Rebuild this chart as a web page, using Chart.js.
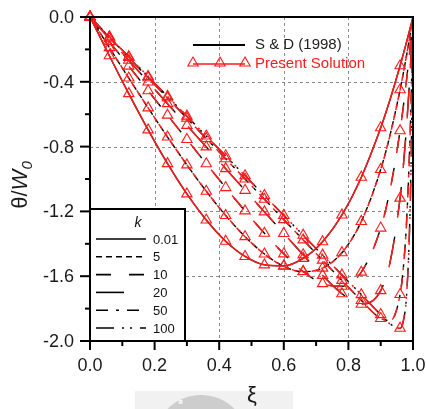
<!DOCTYPE html>
<html>
<head>
<meta charset="utf-8">
<script src="https://cdn.jsdelivr.net/npm/chart.js@4.4.1/dist/chart.umd.min.js"></script>
<style>
html, body { margin: 0; padding: 0; background: #fff; }
#wrap { position: relative; width: 426px; height: 409px; }
</style>
</head>
<body>
<div id="wrap"><canvas id="c" width="426" height="409"></canvas></div>
<script>
// ── data ───────────────────────────────────────────────────
const XI = [0, 0.06, 0.12, 0.18, 0.24, 0.30, 0.36, 0.42, 0.48, 0.54, 0.60, 0.66,
            0.72, 0.78, 0.84, 0.90, 0.93, 0.96, 0.97, 0.98, 0.99, 0.995, 1.0];
// triangle markers only on the regular grid (0 .. 0.96, step 0.06)
const MARK_IDX = [0, 1, 2, 3, 4, 5, 6, 7, 8, 9, 10, 11, 12, 13, 14, 15, 17];

const K_LABELS = ['0.01', '5', '10', '20', '50', '100'];

const TH_K001 = [0, -0.239, -0.473, -0.697, -0.905, -1.092, -1.253, -1.384, -1.478, -1.530, -1.536, -1.490,
                 -1.387, -1.222, -0.989, -0.684, -0.503, -0.301, -0.229, -0.155, -0.079, -0.040, 0];
const TH_K5   = [0, -0.189, -0.377, -0.561, -0.741, -0.913, -1.076, -1.225, -1.356, -1.463, -1.539, -1.572,
                 -1.550, -1.455, -1.262, -0.941, -0.720, -0.449, -0.347, -0.238, -0.123, -0.062, 0];
const TH_K10  = [0, -0.152, -0.303, -0.455, -0.606, -0.756, -0.906, -1.053, -1.197, -1.335, -1.462, -1.571,
                 -1.646, -1.662, -1.575, -1.303, -1.056, -0.702, -0.554, -0.389, -0.205, -0.105, 0];
const TH_K20  = [0, -0.134, -0.267, -0.401, -0.535, -0.669, -0.802, -0.936, -1.070, -1.203, -1.336, -1.468,
                 -1.595, -1.708, -1.773, -1.689, -1.504, -1.118, -0.921, -0.676, -0.373, -0.196, 0];
const TH_K50  = [0, -0.125, -0.250, -0.375, -0.500, -0.625, -0.750, -0.875, -1.000, -1.125, -1.251, -1.376,
                 -1.501, -1.626, -1.750, -1.861, -1.873, -1.713, -1.550, -1.268, -0.793, -0.447, 0];
const TH_K100 = [0, -0.122, -0.245, -0.367, -0.490, -0.612, -0.735, -0.857, -0.980, -1.102, -1.225, -1.347,
                 -1.470, -1.592, -1.714, -1.837, -1.896, -1.921, -1.877, -1.721, -1.266, -0.790, 0];

const CURVES = [TH_K001, TH_K5, TH_K10, TH_K20, TH_K50, TH_K100];

const X_MAJOR = [0, 0.2, 0.4, 0.6, 0.8, 1.0];
const X_MINOR = [0.1, 0.3, 0.5, 0.7, 0.9];
const Y_MAJOR = [0, -0.4, -0.8, -1.2, -1.6, -2.0];
const Y_MINOR = [-0.2, -0.6, -1.0, -1.4, -1.8];

// ── styles ─────────────────────────────────────────────────
const DASHES = [[], [6, 4], [15, 18], [28, 22], [12, 8, 3, 8], [18, 8, 2, 6, 2, 8]];
const RED = '#ff1a1a';
const FONT = '"Liberation Sans", Arial, sans-serif';

// ── datasets ───────────────────────────────────────────────
const pts = arr => XI.map((x, i) => ({ x: x, y: arr[i] }));
const datasets = [];

CURVES.forEach((arr, k) => {
  // S & D (1998) – black
  datasets.push({
    data: pts(arr),
    borderColor: '#000',
    borderWidth: 1.4,
    borderDash: DASHES[k],
    pointRadius: 0,
    cubicInterpolationMode: 'monotone',
    order: 2
  });
  // present solution – red with hollow triangles
  datasets.push({
    data: pts(arr),
    borderColor: RED,
    borderWidth: 1.5,
    borderDash: DASHES[k],
    borderDashOffset: 3,
    pointStyle: 'triangle',
    pointRadius: XI.map((x, i) => MARK_IDX.includes(i) ? 6 : 0),
    pointBorderColor: RED,
    pointBackgroundColor: 'rgba(0,0,0,0)',
    pointBorderWidth: 1.1,
    cubicInterpolationMode: 'monotone',
    clip: false,
    order: 1
  });
});

// ── helpers ────────────────────────────────────────────────
function seg(ctx, x1, y1, x2, y2) {
  ctx.beginPath(); ctx.moveTo(x1, y1); ctx.lineTo(x2, y2); ctx.stroke();
}

function triangle(ctx, x, y, r) {
  ctx.beginPath();
  ctx.moveTo(x, y - r);
  ctx.lineTo(x + r * 0.866, y + r * 0.5);
  ctx.lineTo(x - r * 0.866, y + r * 0.5);
  ctx.closePath();
  ctx.stroke();
}

// ── grid, frame, ticks, legends, titles ────────────────────
const decor = {
  id: 'decor',
  beforeDatasetsDraw(chart) {
    const { ctx, chartArea: a, scales: { x, y } } = chart;
    ctx.save();
    ctx.strokeStyle = '#8a8a8a';
    ctx.lineWidth = 1;
    ctx.setLineDash([3, 3]);
    X_MAJOR.slice(1, -1).forEach(v => {
      const px = Math.round(x.getPixelForValue(v)) + 0.5;
      seg(ctx, px, a.top, px, a.bottom);
    });
    Y_MAJOR.slice(1, -1).forEach(v => {
      const py = Math.round(y.getPixelForValue(v)) + 0.5;
      seg(ctx, a.left, py, a.right, py);
    });
    ctx.restore();
  },
  afterDatasetsDraw(chart) {
    const { ctx, chartArea: a, scales: { x, y } } = chart;
    ctx.save();

    // inner legend box (k)
    const bx = a.left, by = 209, bw = 95, bh = a.bottom - 209;
    ctx.fillStyle = '#fff';
    ctx.fillRect(bx, by, bw, bh);
    ctx.strokeStyle = '#000';
    ctx.lineWidth = 2;
    ctx.strokeRect(bx, by, bw, bh);
    ctx.fillStyle = '#111';
    ctx.font = 'italic 14px ' + FONT;
    ctx.textAlign = 'center';
    ctx.textBaseline = 'middle';
    ctx.fillText('k', 138, 223);
    ctx.font = '13px ' + FONT;
    ctx.textAlign = 'left';
    K_LABELS.forEach((lab, k) => {
      const ly = 239 + k * 17.8;
      ctx.lineWidth = 1.6;
      ctx.setLineDash(DASHES[k]);
      seg(ctx, 96, ly, 146, ly);
      ctx.setLineDash([]);
      ctx.fillText(lab, 153, ly + 1);
    });

    // frame
    ctx.setLineDash([]);
    ctx.lineWidth = 2;
    ctx.strokeStyle = '#000';
    ctx.strokeRect(a.left, a.top, a.right - a.left, a.bottom - a.top);

    // ticks
    X_MAJOR.forEach(v => { const p = x.getPixelForValue(v); seg(ctx, p, a.bottom, p, a.bottom + 9); });
    X_MINOR.forEach(v => { const p = x.getPixelForValue(v); seg(ctx, p, a.bottom, p, a.bottom + 5); });
    Y_MAJOR.forEach(v => { const p = y.getPixelForValue(v); seg(ctx, a.left - 10, p, a.left, p); });
    Y_MINOR.forEach(v => { const p = y.getPixelForValue(v); seg(ctx, a.left - 5, p, a.left, p); });

    // tick labels
    ctx.fillStyle = '#1a1a1a';
    ctx.font = '18px ' + FONT;
    ctx.textAlign = 'center';
    ctx.textBaseline = 'middle';
    X_MAJOR.forEach(v => ctx.fillText(v.toFixed(1), x.getPixelForValue(v), 366));
    ctx.textAlign = 'right';
    Y_MAJOR.forEach(v => ctx.fillText(v === 0 ? '0.0' : v.toFixed(1), 74, y.getPixelForValue(v) + 1));

    // top legend
    ctx.lineWidth = 2;
    ctx.strokeStyle = '#000';
    seg(ctx, 193, 45, 245, 45);
    ctx.strokeStyle = RED;
    ctx.lineWidth = 1.5;
    seg(ctx, 193, 64, 245, 64);
    ctx.lineWidth = 1.1;
    [193, 220, 245].forEach(px => triangle(ctx, px, 63, 6));
    ctx.font = '15px ' + FONT;
    ctx.textAlign = 'left';
    ctx.fillStyle = '#222';
    ctx.fillText('S & D (1998)', 255, 45);
    ctx.fillStyle = RED;
    ctx.fillText('Present Solution', 255, 64);

    // watermark under the x title
    ctx.fillStyle = '#f1f1f1';
    ctx.fillRect(135, 391, 158, 18);
    ctx.fillStyle = '#cdcdcd';
    ctx.beginPath();
    ctx.arc(201, 442, 47, Math.PI, 2 * Math.PI);
    ctx.fill();
    ctx.fillStyle = '#f1f1f1';
    [[-0.75, 0], [-0.55, 0], [-0.35, 0], [-0.15, 0]].forEach(([ang]) => {
      const t = Math.PI * (1.5 + ang);
      ctx.fillRect(201 + Math.cos(t) * 45 - 2, 442 + Math.sin(t) * 45 - 2, 4, 4);
    });

    // axis titles
    ctx.fillStyle = '#1a1a1a';
    ctx.textBaseline = 'alphabetic';
    ctx.font = '22px ' + FONT;
    ctx.textAlign = 'center';
    ctx.fillText('ξ', 252, 402);

    ctx.translate(27, 185);
    ctx.rotate(-Math.PI / 2);
    const f1 = '22px ' + FONT, f2 = 'italic 22px ' + FONT, f3 = 'italic 15px ' + FONT;
    ctx.font = f1; const w1 = ctx.measureText('θ/').width;
    ctx.font = f2; const w2 = ctx.measureText('W').width;
    ctx.font = f3; const w3 = ctx.measureText('0').width;
    let sx = -(w1 + w2 + w3) / 2;
    ctx.textAlign = 'left';
    ctx.font = f1; ctx.fillText('θ/', sx, 0); sx += w1;
    ctx.font = f2; ctx.fillText('W', sx, 0); sx += w2;
    ctx.font = f3; ctx.fillText('0', sx, 5);

    ctx.restore();
  }
};

// ── chart ──────────────────────────────────────────────────
new Chart(document.getElementById('c'), {
  type: 'scatter',
  data: { datasets },
  options: {
    responsive: false,
    animation: false,
    devicePixelRatio: 1,
    showLine: true,
    layout: { padding: { top: 17, right: 13, left: 0, bottom: 0 } },
    plugins: { legend: { display: false }, tooltip: { enabled: false } },
    scales: {
      x: {
        type: 'linear', min: 0, max: 1,
        ticks: { display: false },
        grid: { display: false },
        border: { display: false },
        afterFit: s => { s.height = 68; }
      },
      y: {
        type: 'linear', min: -2, max: 0,
        ticks: { display: false },
        grid: { display: false },
        border: { display: false },
        afterFit: s => { s.width = 90; }
      }
    }
  },
  plugins: [decor]
});
</script>
</body>
</html>
